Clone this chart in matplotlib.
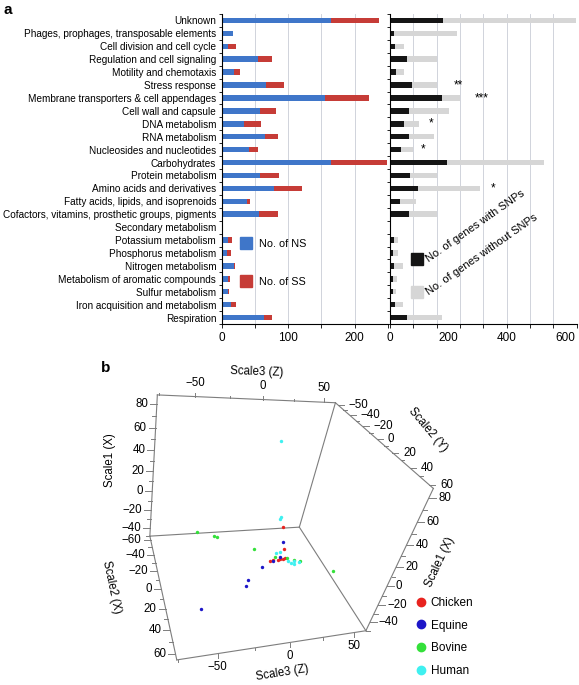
import numpy as np
import matplotlib
matplotlib.use('Agg')
import matplotlib.pyplot as plt
from matplotlib.lines import Line2D

plt.rcParams['font.family'] = ['Liberation Sans', 'DejaVu Sans']

# ---- panel a data (top to bottom) ----
categories = [
    'Unknown', 'Phages, prophages, transposable elements', 'Cell division and cell cycle',
    'Regulation and cell signaling', 'Motility and chemotaxis', 'Stress response',
    'Membrane transporters & cell appendages', 'Cell wall and capsule', 'DNA metabolism',
    'RNA metabolism', 'Nucleosides and nucleotides', 'Carbohydrates', 'Protein metabolism',
    'Amino acids and derivatives', 'Fatty acids, lipids, and isoprenoids',
    'Cofactors, vitamins, prosthetic groups, pigments', 'Secondary metabolism',
    'Potassium metabolism', 'Phosphorus metabolism', 'Nitrogen metabolism',
    'Metabolism of aromatic compounds', 'Sulfur metabolism',
    'Iron acquisition and metabolism', 'Respiration',
]
ns_counts = [164, 17, 10, 54, 19, 67, 155, 58, 34, 65, 41, 164, 57, 79, 38, 56, 1, 9, 8, 18, 9, 9, 14, 63]
ss_counts = [72, 0, 11, 21, 8, 27, 67, 23, 25, 20, 14, 85, 29, 42, 5, 28, 0, 7, 6, 2, 4, 2, 7, 13]
genes_with_snps = [183, 14, 16, 59, 21, 74, 177, 64, 48, 66, 39, 196, 69, 95, 34, 66, 0, 14, 11, 14, 11, 9, 16, 57]
genes_without_snps = [455, 217, 32, 101, 27, 86, 63, 139, 52, 86, 39, 332, 91, 214, 54, 94, 3, 14, 17, 32, 14, 11, 30, 120]
# significance stars and where they sit on the right-hand axis
sig_marks = {'Stress response': ('**', 233), 'Membrane transporters & cell appendages': ('***', 314),
             'DNA metabolism': ('*', 140), 'Nucleosides and nucleotides': ('*', 114),
             'Amino acids and derivatives': ('*', 354)}

# ---- panel b data: MDS coordinates (Scale1, Scale2, Scale3) ----
chicken_s1 = [7, 21, -9, -8.2, -8.5, -7.8, -8.5, -7.8]
chicken_s2 = [0, 40, 20, 20, 20, 20, 20, 20]
chicken_s3 = [8, -9, -6.5, -4.4, -0.4, 1, 3.6, 5]

equine_s1 = [10, -5.5, -29, -15, -6, -34, -31]
equine_s2 = [20, 20, 0, 20, 40, 20, 40]
equine_s3 = [0, 1, 7, -11, -29, -20, -57]

bovine_s1 = [24, 37, 36, -14, -5.5, -8, -30, -12.5, -26.5]
bovine_s2 = [20, 40, 40, 0, 20, 20, 0, 20, 20]
bovine_s3 = [-61, -56, -54, -11, -3, 6.5, 25, 17.5, 48.5]

human_s1 = [63, 34, 31.5, -1.5, 0, 9, -13.5, -35, -12.5, 9]
human_s2 = [-40, 20, 20, 20, 20, 40, 20, 0, 20, 40]
human_s3 = [10, -6.5, -6.5, -3, -0.5, -4, 11, 26, 16.5, 0]

species = ['Chicken', 'Equine', 'Bovine', 'Human']
species_colors = ['#e8231f', '#1d16c8', '#34e03a', '#3ff0f0']

W, H = 579, 685
fig = plt.figure(figsize=(W / 100, H / 100), dpi=100)


def fx(px):
    return px / W


def fy(py):
    return 1 - py / H


# ---------------- panel a ----------------
y = np.arange(len(categories))
ax_l = fig.add_axes([fx(221.7), fy(324), fx(388 - 221.7), (324 - 14) / H])
ax_l.barh(y, ns_counts, height=0.42, color='#3f76c9', zorder=2)
ax_l.barh(y, ss_counts, left=ns_counts, height=0.42, color='#c63c37', zorder=2)
ax_l.set_ylim(len(categories) - 0.5, -0.5)
ax_l.set_xlim(0, 250)
ax_l.set_xticks(np.arange(0, 251, 50))
ax_l.set_xticklabels(['0', '', '100', '', '200', ''])
ax_l.set_yticks(y)
ax_l.set_yticklabels(categories, fontsize=7.2)
ax_l.set_yticks(np.arange(-0.5, len(categories), 1), minor=True)
ax_l.tick_params(axis='y', which='major', length=0, pad=4)
ax_l.tick_params(axis='y', which='minor', length=2.5, width=0.6)
ax_l.tick_params(axis='x', length=3, width=0.6, labelsize=8.5, pad=3)
ax_l.xaxis.grid(True, color='#c9ccd6', lw=0.6, zorder=0)
for s in ['top', 'right']:
    ax_l.spines[s].set_visible(False)
ax_l.spines['left'].set_linewidth(0.8)
ax_l.spines['bottom'].set_linewidth(0.8)
h_ns = Line2D([], [], ls='', marker='s', ms=8.5, color='#3f76c9')
h_ss = Line2D([], [], ls='', marker='s', ms=8.5, color='#c63c37')
ax_l.legend([h_ns, h_ss], ['No. of NS', 'No. of SS'], loc='upper left', frameon=False,
            bbox_to_anchor=(fx(238), fy(239)), bbox_transform=fig.transFigure,
            fontsize=7.8, labelspacing=2.6, handlelength=1.5, handletextpad=0.4, borderpad=0,
            borderaxespad=0)

ax_r = fig.add_axes([fx(390), fy(324), fx(576.7 - 390), (324 - 14) / H])
ax_r.barh(y, genes_with_snps, height=0.42, color='#151515', zorder=2)
ax_r.barh(y, genes_without_snps, left=genes_with_snps, height=0.42, color='#d6d6d6', zorder=2)
ax_r.set_ylim(len(categories) - 0.5, -0.5)
ax_r.set_xlim(0, 640)
ax_r.xaxis.remove_overlapping_locs = False
ax_r.set_xticks(np.arange(0, 641, 80))
ax_r.set_xticklabels([])
ax_r.set_xticks([0, 200, 400, 600], minor=True)
ax_r.set_xticklabels(['0', '200', '400', '600'], minor=True)
ax_r.tick_params(axis='x', which='major', length=3, width=0.6)
ax_r.tick_params(axis='x', which='minor', length=0, labelsize=8.5, pad=6)
ax_r.set_yticks(np.arange(-0.5, len(categories), 1))
ax_r.set_yticklabels([])
ax_r.tick_params(axis='y', length=2.5, width=0.6)
ax_r.xaxis.grid(True, which='major', color='#c9ccd6', lw=0.6, zorder=0)
for s in ['top', 'right']:
    ax_r.spines[s].set_visible(False)
ax_r.spines['left'].set_linewidth(0.8)
ax_r.spines['bottom'].set_linewidth(0.8)
for cat, (mark, xpos) in sig_marks.items():
    ax_r.text(xpos, categories.index(cat), mark, ha='center', va='center', fontsize=8.5)

# rotated legend of the right-hand bars
for (sx, sy), col, txt in [((417.3, 259.3), '#151515', 'No. of genes with SNPs'),
                            ((417.3, 291.7), '#d6d6d6', 'No. of genes without SNPs')]:
    fig.add_artist(Line2D([fx(sx)], [fy(sy)], ls='', marker='s', ms=9, color=col,
                          transform=fig.transFigure))
    fig.text(fx(sx + 10), fy(sy + 1), txt, rotation=35, rotation_mode='anchor',
             ha='left', va='center', fontsize=8)

fig.text(fx(3), fy(10), 'a', fontsize=11, fontweight='bold', va='center')
fig.text(fx(101), fy(368), 'b', fontsize=11, fontweight='bold', va='center')

# ---------------- panel b ----------------
s3_lim = (-76, 60)
s1_lim = (-50, 87)
s2_lim = (-65, 65)
# box corners and where they land in the picture (perspective view from inside the box)
corner_world = [(s3_lim[0], s1_lim[1], s2_lim[0]), (s3_lim[1], s1_lim[1], s2_lim[0]),
                (s3_lim[1], s1_lim[0], s2_lim[0]), (s3_lim[0], s1_lim[0], s2_lim[0]),
                (s3_lim[0], s1_lim[0], s2_lim[1]), (s3_lim[1], s1_lim[0], s2_lim[1]),
                (s3_lim[1], s1_lim[1], s2_lim[1])]
corner_px = [(157, 395), (336, 403), (299, 527), (150, 536), (177, 660), (366, 631), (433, 488)]


def fit_camera(world, pixels):
    """Direct linear transform: 3x4 projection matrix from the box corners."""
    w = np.asarray(world, float) / 100.0
    p = np.asarray(pixels, float)
    c = p.mean(axis=0)
    q = (p - c) / 100.0
    rows = []
    for (a, b, d), (u, v) in zip(w, q):
        hh = [a, b, d, 1.0]
        rows.append(hh + [0, 0, 0, 0] + [-u * t for t in hh])
        rows.append([0, 0, 0, 0] + hh + [-v * t for t in hh])
    m = np.linalg.svd(np.array(rows))[2][-1].reshape(3, 4)
    return m, c


CAM, CAM_C = fit_camera(corner_world, corner_px)


def project(s3, s1, s2):
    s3, s1, s2 = np.broadcast_arrays(np.atleast_1d(np.asarray(s3, float)),
                                     np.atleast_1d(np.asarray(s1, float)),
                                     np.atleast_1d(np.asarray(s2, float)))
    hh = np.stack([s3 / 100, s1 / 100, s2 / 100, np.ones_like(s3)])
    r = CAM @ hh
    return r[0] / r[2] * 100 + CAM_C[0], r[1] / r[2] * 100 + CAM_C[1]


ax_b = fig.add_axes([0, 0, 1, 1])
ax_b.set_xlim(0, W)
ax_b.set_ylim(H, 0)
ax_b.axis('off')
ax_b.patch.set_visible(False)

edge_col = '#7d7d7d'
edges = [(0, 1), (1, 2), (2, 3), (3, 0), (3, 4), (4, 5), (5, 2), (1, 6), (6, 5)]
for i, j in edges:
    u, v = project([corner_world[i][0], corner_world[j][0]], [corner_world[i][1], corner_world[j][1]],
                   [corner_world[i][2], corner_world[j][2]])
    ax_b.plot(u, v, color=edge_col, lw=0.8, zorder=1)


def axis_ticks(fn, major, minor, labels, tdir, tlen, loff, ha, va):
    d = np.asarray(tdir, float)
    d = d / np.hypot(*d)
    for vals, L in [(major, tlen), (minor, tlen * 0.55)]:
        u, v = fn(np.asarray(vals, float))
        for a, b in zip(u, v):
            ax_b.plot([a, a + d[0] * L], [b, b + d[1] * L], color=edge_col, lw=0.7)
    u, v = fn(np.asarray(major, float))
    for a, b, t in zip(u, v, labels):
        ax_b.text(a + d[0] * (tlen + loff), b + d[1] * (tlen + loff), t, ha=ha, va=va, fontsize=8.3)


def lab(vals):
    return [f'{int(t)}'.replace('-', '\u2212') for t in vals]


s1_major = [-40, -20, 0, 20, 40, 60, 80]
s1_minor = [-50, -30, -10, 10, 30, 50, 70]
s3_major = [-50, 0, 50]
s3_minor = [-75, -25, 25]
s2_major = [-60, -40, -20, 0, 20, 40, 60]
s2_minor = [-50, -30, -10, 10, 30, 50]
s2_top = [-50, -40, -20, 0, 20, 40, 60]

# the upper right edge spreads its labels evenly along the edge
top_pos = np.linspace(s2_lim[0] + 4, s2_lim[1] - 4, len(s2_top))
top_minor = (top_pos[:-1] + top_pos[1:]) / 2

axis_ticks(lambda t: project(s3_lim[0], t, s2_lim[0]), s1_major, s1_minor, lab(s1_major),
           (-1, 0), 7, 2, 'right', 'center')
axis_ticks(lambda t: project(t, s1_lim[1], s2_lim[0]), s3_major, s3_minor, lab(s3_major),
           (0, -1), 4, 4, 'center', 'bottom')
axis_ticks(lambda t: project(s3_lim[1], s1_lim[1], t), top_pos, top_minor, lab(s2_top),
           (1, 0), 6, 5, 'left', 'center')
axis_ticks(lambda t: project(s3_lim[1], t, s2_lim[1]), s1_major, s1_minor, lab(s1_major),
           (1, 0), 7, 2, 'left', 'center')
axis_ticks(lambda t: project(s3_lim[0], s1_lim[0], t), s2_major, s2_minor, lab(s2_major),
           (-1, 0), 7, 2, 'right', 'center')
axis_ticks(lambda t: project(t, s1_lim[0], s2_lim[1]), s3_major, s3_minor, lab(s3_major),
           (0, 1), 4, 3, 'center', 'top')

ax_b.text(256.7, 371.7, 'Scale3 (Z)', ha='center', va='center', fontsize=8.3, rotation=-2)
ax_b.text(110, 460, 'Scale1 (X)', ha='center', va='center', fontsize=8.3, rotation=90)
ax_b.text(111.7, 586.7, 'Scale2 (X)', ha='center', va='center', fontsize=8.3, rotation=-78)
ax_b.text(282.7, 672.7, 'Scale3 (Z)', ha='center', va='center', fontsize=8.3, rotation=9)
ax_b.text(428, 430, 'Scale2 (Y)', ha='center', va='center', fontsize=8.3, rotation=-50)
ax_b.text(440, 561.7, 'Scale1 (X)', ha='center', va='center', fontsize=8.3, rotation=65)

scatter_data = [(chicken_s1, chicken_s2, chicken_s3), (equine_s1, equine_s2, equine_s3),
                (bovine_s1, bovine_s2, bovine_s3), (human_s1, human_s2, human_s3)]
handles = []
for (s1, s2, s3), col in zip(scatter_data, species_colors):
    u, v = project(s3, s1, s2)
    ax_b.scatter(u, v, s=6, color=col, zorder=3, lw=0)
    handles.append(Line2D([], [], ls='', marker='o', ms=6, color=col))
ax_b.legend(handles, species, loc='upper left', frameon=False,
            bbox_to_anchor=(fx(416.6), fy(597)), bbox_transform=fig.transFigure,
            fontsize=8.5, labelspacing=0.9, handlelength=0.8, handletextpad=0.4,
            borderpad=0, borderaxespad=0)

fig.savefig('out.png', dpi=100)
